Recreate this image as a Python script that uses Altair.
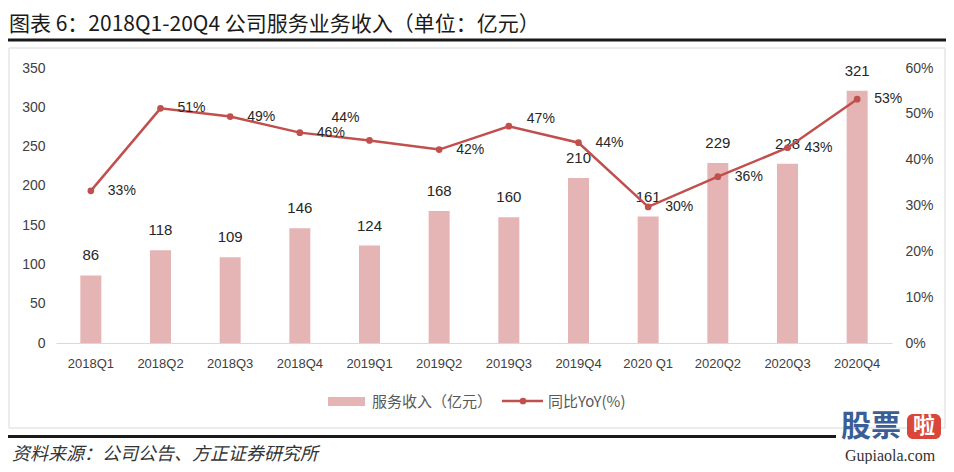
import altair as alt
import pandas as pd

# ---- data ----
quarters = ["2018Q1", "2018Q2", "2018Q3", "2018Q4", "2019Q1", "2019Q2",
            "2019Q3", "2019Q4", "2020 Q1", "2020Q2", "2020Q3", "2020Q4"]
revenue = [86, 118, 109, 146, 124, 168, 160, 210, 161, 229, 228, 321]
yoy = [0.332, 0.512, 0.494, 0.459, 0.442, 0.422, 0.473, 0.437, 0.297, 0.363, 0.426, 0.532]

left_ticks = [0, 50, 100, 150, 200, 250, 300, 350]
right_ticks = [0, 0.1, 0.2, 0.3, 0.4, 0.5, 0.6]

title_text = "图表 6：2018Q1-20Q4 公司服务业务收入（单位：亿元）"
source_text = "资料来源：公司公告、方正证券研究所"
legend_bar = "服务收入（亿元）"
legend_line = "同比YoY(%)"

df = pd.DataFrame({"quarter": quarters, "revenue": revenue, "yoy": yoy})
one = pd.DataFrame({"a": [0]})

BAR = "#E5B5B5"
LINE = "#C0504D"
NUM_FONT = "Liberation Sans"
CJK_FONT = "Noto Sans CJK SC"
AXIS_COLOR = "#404040"

x = alt.X("quarter:N", sort=quarters, title=None,
          scale=alt.Scale(paddingInner=0, paddingOuter=0),
          axis=alt.Axis(labelAngle=0, ticks=False, tickSize=0, domainColor="#d9d9d9",
                        labelPadding=14, labelFontSize=13, labelColor=AXIS_COLOR,
                        labelFont=NUM_FONT, grid=False))

y_left = alt.Y("revenue:Q", title=None,
               scale=alt.Scale(domain=[0, 350], nice=False),
               axis=alt.Axis(values=left_ticks, domain=False, ticks=False, tickSize=0,
                             grid=False, labelPadding=11, labelFontSize=14,
                             labelColor=AXIS_COLOR, labelFont=NUM_FONT))

y_right = alt.Y("yoy:Q", title=None,
                scale=alt.Scale(domain=[0, 0.6], nice=False),
                axis=alt.Axis(orient="right", values=right_ticks, format=".0%",
                              domain=False, ticks=False, tickSize=0, grid=False,
                              labelPadding=13, labelFontSize=14,
                              labelColor=AXIS_COLOR, labelFont=NUM_FONT))

base = alt.Chart(df)

bars = base.mark_bar(size=21, color=BAR).encode(x=x, y=y_left)
bar_labels = base.mark_text(dy=-20, fontSize=15, font=NUM_FONT, color="#262626").encode(
    x=x, y=y_left, text=alt.Text("revenue:Q"))
left = alt.layer(bars, bar_labels)

line = base.mark_line(color=LINE, strokeWidth=2.5).encode(x=x, y=y_right)
points = base.mark_point(filled=True, size=45, color=LINE, opacity=1).encode(x=x, y=y_right)
yoy_text = alt.Text("yoy:Q", format=".0%")
labels_main = base.transform_filter(
    "datum.quarter != '2019Q1' && datum.quarter != '2019Q3'"
).mark_text(align="left", dx=17, fontSize=14, font=NUM_FONT, color="#262626").encode(
    x=x, y=y_right, text=yoy_text)
labels_q1 = base.transform_filter("datum.quarter == '2019Q1'").mark_text(
    align="center", dx=-24, dy=-22, fontSize=14, font=NUM_FONT, color="#262626").encode(
    x=x, y=y_right, text=yoy_text)
labels_q3 = base.transform_filter("datum.quarter == '2019Q3'").mark_text(
    align="left", dx=18, dy=-7, fontSize=14, font=NUM_FONT, color="#262626").encode(
    x=x, y=y_right, text=yoy_text)
right = alt.layer(line, points, labels_main, labels_q1, labels_q3)

deco = alt.Chart(one)

box = deco.mark_rect(filled=False, stroke="#d9d9d9", strokeWidth=1).encode(
    x=alt.value(-47), x2=alt.value(889), y=alt.value(-20), y2=alt.value(360))
title = deco.mark_text(align="left", baseline="middle", fontSize=21, font=CJK_FONT,
                       color="#1a1a1a").encode(
    x=alt.value(-47), y=alt.value(-43), text=alt.value(title_text))
top_rule = deco.mark_rule(color="#1a1a1a", strokeWidth=3).encode(
    x=alt.value(-48), x2=alt.value(890), y=alt.value(-28))
bottom_rule = deco.mark_rule(color="#1a1a1a", strokeWidth=3).encode(
    x=alt.value(-48), x2=alt.value(780), y=alt.value(368.5))
source = deco.mark_text(align="left", baseline="middle", fontSize=18, font=CJK_FONT,
                        fontStyle="italic", color="#333333").encode(
    x=alt.value(-44), y=alt.value(387), text=alt.value(source_text))

leg_rect = deco.mark_rect(color=BAR).encode(
    x=alt.value(272), x2=alt.value(309), y=alt.value(329), y2=alt.value(338))
leg_text1 = deco.mark_text(align="left", baseline="middle", fontSize=15, font=CJK_FONT,
                           color="#595959").encode(
    x=alt.value(316), y=alt.value(334), text=alt.value(legend_bar))
leg_line = deco.mark_rule(color=LINE, strokeWidth=2.5).encode(
    x=alt.value(446), x2=alt.value(487), y=alt.value(333))
leg_dot = deco.mark_point(filled=True, size=45, color=LINE, opacity=1).encode(
    x=alt.value(467), y=alt.value(333))
leg_text2 = deco.mark_text(align="left", baseline="middle", fontSize=15, font=CJK_FONT,
                           color="#595959").encode(
    x=alt.value(492), y=alt.value(334), text=alt.value(legend_line))

logo1 = deco.mark_text(align="center", baseline="middle", fontSize=30, fontWeight="bold",
                       font=CJK_FONT, color="#3a5f96").encode(
    x=alt.value(815), y=alt.value(359), text=alt.value("股票"))
logo_box = deco.mark_rect(color="#D9473B", cornerRadius=6).encode(
    x=alt.value(851), x2=alt.value(885), y=alt.value(346), y2=alt.value(371))
logo2 = deco.mark_text(align="center", baseline="middle", fontSize=22, fontWeight="bold",
                       font=CJK_FONT, color="#ffffff").encode(
    x=alt.value(868), y=alt.value(358), text=alt.value("啦"))
logo3 = deco.mark_text(align="center", baseline="middle", fontSize=16,
                       font="Liberation Serif", color="#333333").encode(
    x=alt.value(834), y=alt.value(388), text=alt.value("Gupiaola.com"))

chart = alt.layer(
    box, left, right, title, top_rule, bottom_rule, source,
    leg_rect, leg_text1, leg_line, leg_dot, leg_text2,
    logo1, logo_box, logo2, logo3
).resolve_scale(y="independent").properties(
    width=836, height=275,
    autosize=alt.AutoSizeParams(type="none"),
    padding={"left": 48, "top": 60, "right": 54, "bottom": 121},
).configure_view(stroke=None)

chart.save("out.html", embed_options={"renderer": "svg", "actions": False})
